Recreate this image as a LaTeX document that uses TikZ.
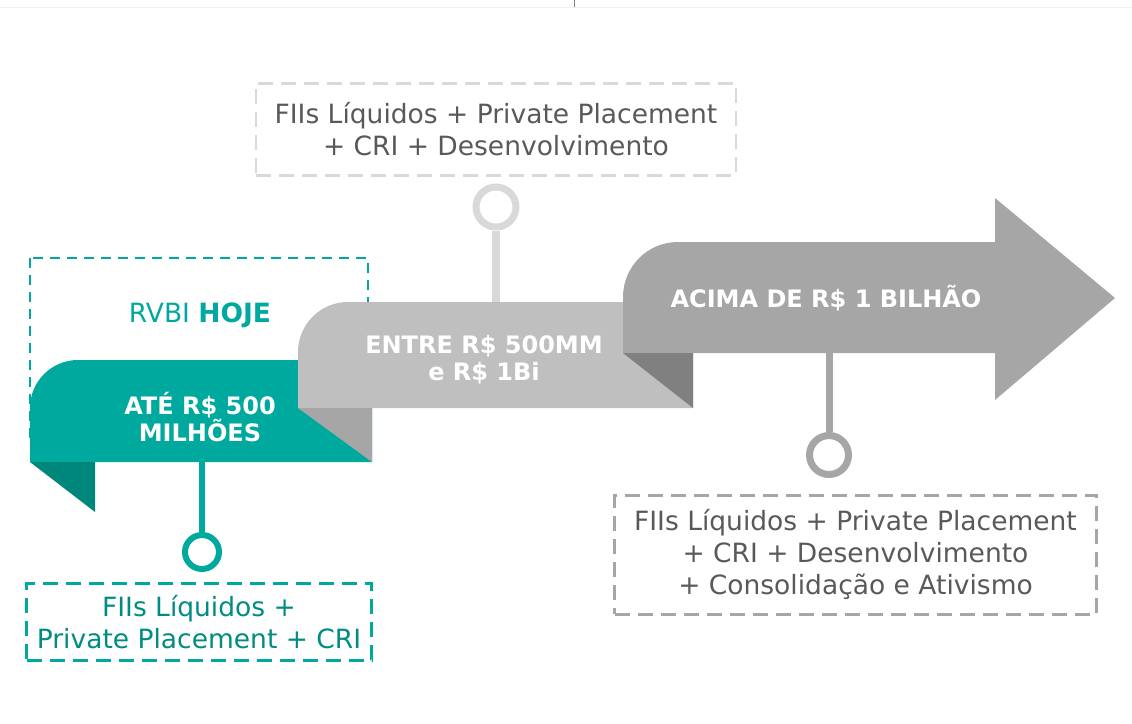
\documentclass[tikz,border=0pt]{standalone}
\usepackage{fontspec}
\setmainfont{DejaVu Sans}
\usepackage{tikz}
\usetikzlibrary{positioning}
\definecolor{rvbiteal}{HTML}{00A99D}
\definecolor{rvbitealdark}{HTML}{00877C}
\definecolor{rvbitealtext}{HTML}{008C82}
\definecolor{bandlight}{HTML}{BFBFBF}
\definecolor{bandmid}{HTML}{A6A6A6}
\definecolor{banddark}{HTML}{808080}
\definecolor{boxline}{HTML}{D9D9D9}
\definecolor{boxtext}{HTML}{595959}
\tikzset{bandtext/.style={
    % Font
    font=\fontsize{24}{27}\selectfont\bfseries,
    text=white,
    align=center,
    inner sep=0pt
    },
    infobox/.style={
    % The shape:
    rectangle,
    inner sep=0pt,
    % The border:
    line width=2.5pt,
    dash pattern=on 15pt off 8pt,
    % Font
    font=\fontsize{26.5}{32}\selectfont,
    text=boxtext,
    align=center
    },
    pinring/.style={
    circle,
    inner sep=0pt,
    fill=white
    },
    pinline/.style={
    line cap=butt
    },
}

\begin{document}
\begin{tikzpicture}[x=1pt,y=-1pt,node distance=10pt]
    \useasboundingbox (0,0) rectangle (1132,723);
    \draw[black!6, line width=1pt] (0,7) -- (1132,7);
    \draw[banddark, line width=0.8pt] (574,0) -- (574,7);

    % frame behind the first ribbon
    \draw[rvbiteal, line width=2pt, dash pattern=on 10pt off 7pt] (30,258) rectangle (368,445);

    % ribbons
    \fill[rvbiteal] (30,462) -- (30,408) .. controls (30,381.5) and (51.5,360) .. (78,360) -- (372,360) -- (372,462) -- cycle;
    \fill[rvbitealdark] (30,462) -- (95,462) -- (95,512) -- cycle;
    \fill[bandlight] (298,408) -- (298,352) .. controls (298,324.4) and (320.4,302) .. (348,302) -- (693,302) -- (693,408) -- cycle;
    \fill[bandmid] (298,408) -- (372,408) -- (372,462) -- cycle;
    \fill[bandmid] (623,353) -- (623,297) .. controls (623,266.6) and (647.6,242) .. (678,242) -- (995,242) -- (995,198) -- (1115,298) -- (995,400) -- (995,353) -- cycle;
    \fill[banddark] (623,353) -- (693,353) -- (693,408) -- cycle;

    \node (rvbi)    [font=\fontsize{26.5}{32}\selectfont, text=rvbiteal, anchor=base] at (200,322) {RVBI \textbf{HOJE}};
    \node (today)   [bandtext] at (200,417) {ATÉ R\$ 500\\MILHÕES};
    \node (between) [bandtext] at (484,360) {ENTRE R\$ 500MM\\e R\$ 1Bi};
    \node (beyond)  [bandtext, anchor=base] at (826,307) {ACIMA DE R\$ 1 BILHÃO};

    % pins and boxes
    \coordinate (todayfoot)   at (202,462);
    \coordinate (betweenfoot) at (496,302);
    \coordinate (beyondfoot)  at (829,353);

    \node (todayring)   [pinring, draw=rvbiteal, line width=6pt, minimum size=34pt] at (202,552) {};
    \node (betweenring) [pinring, draw=boxline, line width=7pt, minimum size=40pt] at (496,207) {};
    \node (beyondring)  [pinring, draw=bandmid, line width=7pt, minimum size=39pt] at (829,455) {};

    \draw[pinline, rvbiteal, line width=6pt] (todayfoot) -- (todayring);
    \draw[pinline, boxline, line width=7.5pt] (betweenfoot) -- (betweenring);
    \draw[pinline, bandmid, line width=7pt] (beyondfoot) -- (beyondring);

    \node (todaybox)   [infobox, draw=rvbiteal, line width=2.8pt, text=rvbitealtext, minimum width=345pt, minimum height=77pt, below=of todayring, xshift=-3pt] {FIIs Líquidos +\\Private Placement + CRI};
    \node (betweenbox) [infobox, draw=boxline, minimum width=480pt, minimum height=92pt, above=7pt of betweenring] {FIIs Líquidos + Private Placement\\+ CRI + Desenvolvimento};
    \node (beyondbox)  [infobox, draw=bandmid, minimum width=482pt, minimum height=119pt, below=16pt of beyondring, xshift=26.5pt] {FIIs Líquidos + Private Placement\\+ CRI + Desenvolvimento\\+ Consolidação e Ativismo};
\end{tikzpicture}
\end{document}
